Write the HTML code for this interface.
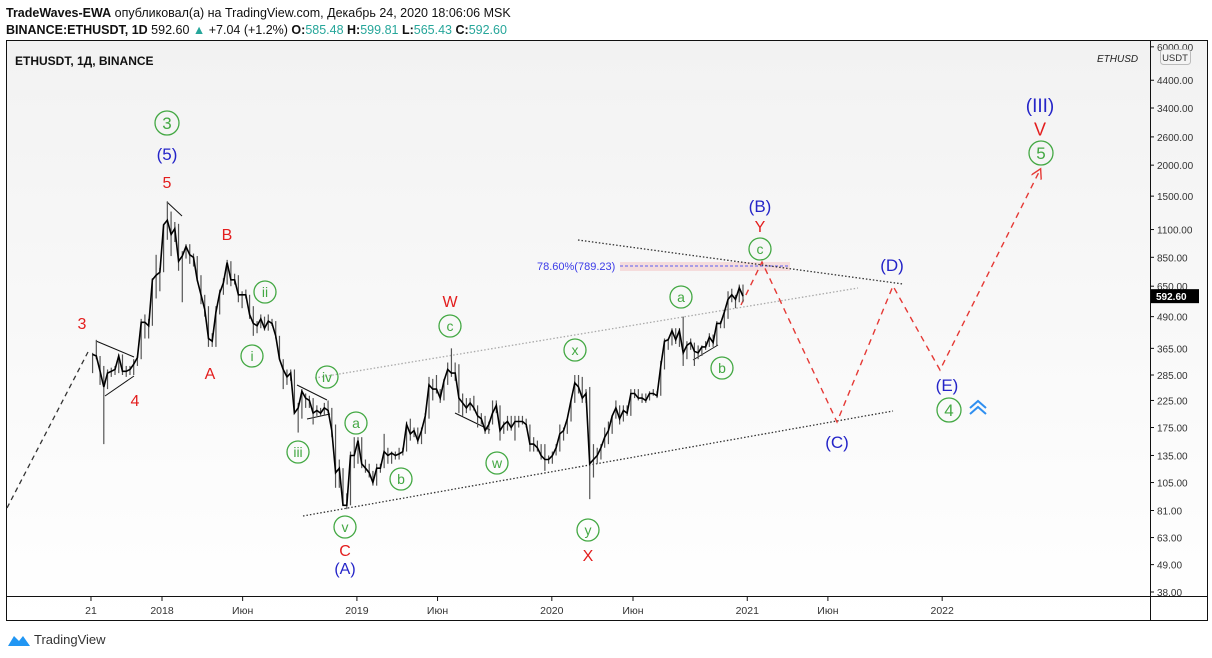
<!DOCTYPE html>
<html><head><meta charset="utf-8">
<style>
html,body{margin:0;padding:0;background:#fff;width:1212px;height:658px;overflow:hidden}
svg{display:block;font-family:"Liberation Sans",sans-serif}
</style></head>
<body>
<svg id="chart" width="1212" height="658" viewBox="0 0 1212 658" xmlns="http://www.w3.org/2000/svg">
<defs>
<linearGradient id="bg" x1="0" y1="0" x2="0" y2="1"><stop offset="0" stop-color="#f2f2f2"/><stop offset="1" stop-color="#ffffff"/></linearGradient>
<marker id="arr" markerWidth="8" markerHeight="8" refX="6" refY="4" orient="auto"><path d="M0,0 L7,4 L0,8" fill="none" stroke="#e53935" stroke-width="1"/></marker>
</defs>
<text x="6" y="17" font-size="12.5" fill="#111"><tspan font-weight="bold">TradeWaves-EWA</tspan> опубликовал(а) на TradingView.com, Декабрь 24, 2020 18:06:06 MSK</text>
<text x="6" y="34" font-size="12.5" fill="#111"><tspan font-weight="bold">BINANCE:ETHUSDT, 1D</tspan> 592.60 <tspan fill="#26a69a">▲</tspan> +7.04 (+1.2%) <tspan font-weight="bold">O:</tspan><tspan fill="#26a69a">585.48</tspan> <tspan font-weight="bold">H:</tspan><tspan fill="#26a69a">599.81</tspan> <tspan font-weight="bold">L:</tspan><tspan fill="#26a69a">565.43</tspan> <tspan font-weight="bold">C:</tspan><tspan fill="#26a69a">592.60</tspan></text>
<rect x="6.5" y="40.5" width="1201" height="580" fill="url(#bg)" stroke="#111"/>
<line x1="1150.5" y1="40" x2="1150.5" y2="621" stroke="#111"/>
<line x1="6" y1="596.5" x2="1208" y2="596.5" stroke="#111"/>
<text x="15" y="65" font-size="12" font-weight="bold" fill="#111">ETHUSDT, 1Д, BINANCE</text>
<text x="1097" y="62" font-size="10" font-style="italic" fill="#222">ETHUSD</text>
<g id="yaxis"></g><g id="xaxis"></g><g id="lines"></g><g id="price"></g><g id="labels"></g>
<g>
<path d="M8,646 L14,636 L19,641 L23,636 L30,646 Z" fill="#2196f3"/>
<text x="34" y="644" font-size="13" fill="#333">TradingView</text></g>
</svg>
<script>
const NS="http://www.w3.org/2000/svg";
const yTicks=[6000,4400,3400,2600,2000,1500,1100,850,650,490,365,285,225,175,135,105,81,63,49,38];
const xTickLabels=["21","2018","Июн","2019","Июн","2020","Июн","2021","Июн","2022"];
const xTickDays=[-133,0,151,365,516,730,882,1096,1247,1461];
const startDay=-133;
const highs=[350,395,340,310,300,305,310,345,345,310,310,330,340,480,500,480,700,870,770,
1150,1430,1300,1180,1160,900,960,960,880,860,720,600,540,420,540,630,700,830,820,730,720,620,630,600,540,470,500,490,500,480,470,410,330,300,300,300,220,250,240,235,230,215,210,220,225,210,180,130,120,95,140,160,
160,160,130,125,117,125,125,165,145,140,140,145,145,185,190,175,175,175,200,280,275,285,250,275,320,365,320,315,240,230,230,235,215,200,195,185,225,225,215,185,195,195,195,195,195,190,180,160,155,150,150,135,
140,150,180,175,190,225,285,285,280,250,255,150,145,150,175,185,195,225,215,215,215,250,250,250,240,240,245,250,245,325,400,400,440,440,440,490,390,400,385,375,375,390,420,415,470,470,520,620,635,600,660,660];
const lows=[290,330,260,150,250,280,285,290,285,280,285,285,310,330,400,400,450,580,620,
740,1000,860,980,750,560,840,800,780,680,550,490,370,370,370,500,600,660,650,660,560,530,580,480,410,420,440,430,430,450,400,330,250,260,270,200,167,190,210,210,180,195,195,195,200,160,100,100,85,82,85,120,
125,120,115,110,102,102,115,120,125,125,130,130,135,140,155,160,150,150,165,190,225,240,220,225,260,280,270,200,195,200,205,205,175,180,165,165,180,200,155,165,170,170,155,175,180,175,140,140,140,130,117,125,
125,135,140,155,165,185,220,240,220,220,90,110,125,130,145,150,165,190,180,185,195,195,230,225,220,220,225,235,230,235,300,360,375,380,370,310,330,360,310,330,340,360,370,370,375,440,440,480,560,530,560,560];
const closes=[345,340,295,255,290,295,300,340,295,295,300,315,335,465,465,450,690,720,740,
1150,1200,1050,1110,820,860,940,870,850,690,600,525,400,390,510,610,670,810,690,690,600,600,600,500,460,450,480,440,470,460,410,330,300,280,290,200,210,245,230,225,200,205,200,210,205,170,115,120,85,85,135,135,
155,125,120,115,105,120,120,140,135,138,135,137,140,180,165,170,155,170,195,260,250,250,230,270,300,290,290,230,220,210,220,210,195,190,170,180,200,215,170,180,185,175,185,185,185,180,150,150,145,135,130,130,
135,145,165,170,190,225,265,255,230,240,125,130,135,145,160,170,195,210,190,205,200,240,240,230,230,225,240,240,235,310,390,395,430,395,430,350,375,385,355,350,370,370,405,385,460,460,510,575,600,575,640,592.6];

function el(t,a,p){const e=document.createElementNS(NS,t);for(const k in a)e.setAttribute(k,a[k]);(p||document.getElementById('chart')).appendChild(e);return e;}
function yS(p){return 592-107.7*Math.log(p/38);}
function xS(d){return 162+d*0.534;}

const ya=document.getElementById('yaxis');
yTicks.forEach(v=>{const y=yS(v);
 const t=el('line',{x1:1150,y1:y,x2:1154,y2:y,stroke:'#111'},ya);
 
 
 const tx=el('text',{x:1157,y:y+4,'font-size':10,fill:'#333'},ya);tx.textContent=v.toFixed(2);
 
 
});
const xa=document.getElementById('xaxis');
xTickLabels.forEach((l,i)=>{const x=xS(xTickDays[i]);
 const t=el('line',{x1:x,y1:597,x2:x,y2:601,stroke:'#111'},xa);
 
 
 const tx=el('text',{x:x,y:614,'font-size':10.5,fill:'#333','text-anchor':'middle'},xa);tx.textContent=l;
 
 
});
// price bars
const pg=document.getElementById('price');
let path='';
closes.forEach((c,i)=>{const x=xS(startDay+7*i+3);
 const b=el('line',{x1:x,y1:yS(highs[i]),x2:x,y2:yS(lows[i]),stroke:'#555','stroke-width':1.2},pg);
 
 
 path+=(i?'L':'M')+x.toFixed(1)+','+yS(c).toFixed(1);
});
const pl=el('path',{d:path,fill:'none',stroke:'#000','stroke-width':1.6},pg);


// last price tag
const lp=yS(592.6);
const tg=el('rect',{x:1151,y:lp-7,width:48,height:14,fill:'#000'});


const tgt=el('text',{x:1156,y:lp+4,'font-size':10,'font-weight':'bold',fill:'#fff'});tgt.textContent='592.60';


const ub=el('rect',{x:1160.5,y:49.5,width:30,height:15,rx:3,fill:'#f4f4f4',stroke:'#bbb'});


const ut=el('text',{x:1175,y:61,'font-size':9.5,fill:'#333','text-anchor':'middle'});ut.textContent='USDT';



// drawings
const lg=document.getElementById('lines');
function ln(x1,y1,x2,y2,st,name){const l=el('line',Object.assign({x1,y1,x2,y2},st),lg);return l;}
const fib=el('rect',{x:620,y:262,width:170,height:9,fill:'#f4d4d4',opacity:0.8},lg);


ln(620,266,790,266,{stroke:'#5b5bf0','stroke-dasharray':'3,2','stroke-width':1},'fib-line');
const ft=el('text',{x:537,y:270,'font-size':11,fill:'#3b3be8'},lg);ft.textContent='78.60%(789.23)';


ln(578,240,903,284,{stroke:'#333','stroke-dasharray':'1.5,2','stroke-width':1.3},'upper-trendline');
ln(315,378,858,288,{stroke:'#aaa','stroke-dasharray':'1.5,2','stroke-width':1.3},'channel-midline');
ln(303,516,893,411,{stroke:'#333','stroke-dasharray':'1.5,2','stroke-width':1.3},'lower-trendline');
ln(7,508,88,352,{stroke:'#333','stroke-dasharray':'5,4','stroke-width':1.3},'entry-dashed-line');
ln(96,341,134,357,{stroke:'#111'},'triangle-4-top');
ln(105,396,134,376,{stroke:'#111'},'triangle-4-bottom');
ln(167,202,182,216,{stroke:'#111'},'top-wedge-line');
ln(297,385,327,400,{stroke:'#111'},'triangle-iv-top');
ln(307,419,330,414,{stroke:'#111'},'triangle-iv-bottom');
ln(455,413,490,430,{stroke:'#111'},'x-wave-line');
ln(693,360,718,345,{stroke:'#111'},'b-wave-line');
const fp=el('polyline',{points:'741,305 762,262 837,422 893,286 940,370 1040,170',fill:'none',stroke:'#e53935','stroke-width':1.4,'stroke-dasharray':'6,5','marker-end':'url(#arr)'},lg);



// labels
const lb=document.getElementById('labels');
const G='#43a843',R='#e31d1d',B='#2424c8';
function txt(x,y,s,c,fs,name){const t=el('text',{x,y:y+fs*0.36,'font-size':fs,fill:c,'text-anchor':'middle'},lb);t.textContent=s;}
function circ(x,y,s,name,r){r=r||11;const c=el('circle',{cx:x,cy:y,r:r,fill:'none',stroke:G,'stroke-width':1.3},lb);txt(x,y,s,G,r>11?17:14,name);}
circ(167,123,'3','wave-circle-3',12);txt(167,154,'(5)',B,17,'wave-5-primary');txt(167,182,'5',R,16,'wave-5-red');
txt(227,234,'B',R,16,'wave-B-red');circ(265,292,'ii','wave-ii');txt(210,373,'A',R,16,'wave-A-red');circ(252,356,'i','wave-i');
txt(82,323,'3',R,16,'wave-3-red');txt(135,400,'4',R,16,'wave-4-red');
circ(327,377,'iv','wave-iv');circ(298,452,'iii','wave-iii');circ(356,423,'a','wave-a-2019');circ(401,479,'b','wave-b-2019');
circ(345,527,'v','wave-v');txt(345,550,'C',R,16,'wave-C-red');txt(345,568,'(A)',B,16,'wave-A-primary');
txt(450,301,'W',R,16,'wave-W');circ(450,326,'c','wave-c-2019');circ(575,350,'x','wave-x');circ(497,463,'w','wave-w');
circ(588,530,'y','wave-y');txt(588,555,'X',R,16,'wave-X');
circ(681,297,'a','wave-a-2020');circ(722,368,'b','wave-b-2020');
txt(760,206,'(B)',B,17,'wave-B-primary');txt(760,226,'Y',R,16,'wave-Y');circ(760,249,'c','wave-c-2020');
txt(892,265,'(D)',B,17,'wave-D-primary');txt(837,442,'(C)',B,17,'wave-C-primary');txt(947,385,'(E)',B,17,'wave-E-primary');
circ(949,410,'4','wave-circle-4',12);
txt(1040,105,'(III)',B,19,'wave-III');txt(1040,129,'V',R,18,'wave-V');circ(1041,153,'5','wave-circle-5',12);
const ch=el('path',{d:'M970,408 L978,401 L986,408 M970,414 L978,407 L986,414',fill:'none',stroke:'#2f8ff0','stroke-width':2},lb);


</script>
</body></html>
